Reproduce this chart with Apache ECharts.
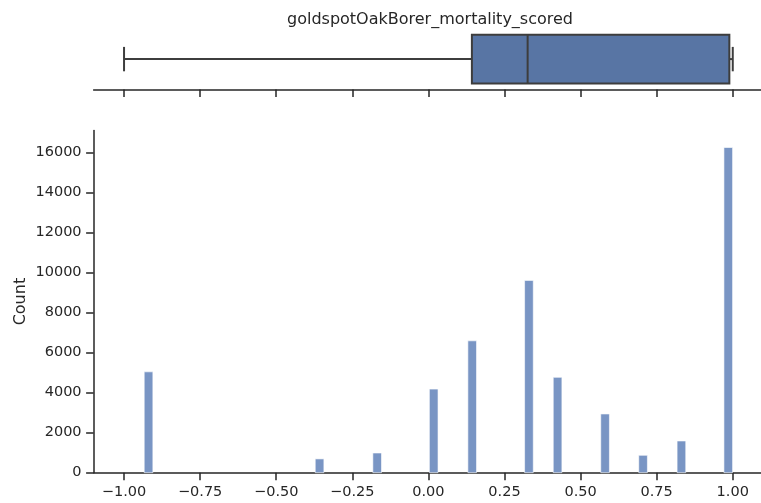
<!DOCTYPE html>
<html>
<head>
<meta charset="utf-8">
<script src="https://cdn.jsdelivr.net/npm/echarts@6/dist/echarts.min.js"></script>
<style>
  html, body { margin: 0; padding: 0; background: #ffffff; }
  #chart { width: 761px; height: 503px; }
</style>
</head>
<body>
<div id="chart"></div>
<script>
// ---- data ----
const titleText = 'goldspotOakBorer_mortality_scored';
const yAxisName = 'Count';
// box plot summary: [min, Q1, median, Q3, max]
const boxStats = [-1.0, 0.1429, 0.326, 0.9888, 1.0];
// histogram bins (centres) and counts
const binCenters = [-0.9195, -0.3576, -0.1683, 0.0174, 0.1439, 0.3303, 0.4244, 0.5805, 0.7053, 0.8313, 0.9852];
const binWidth = 0.0285;
const binCounts = [5040, 690, 985, 4180, 6590, 9610, 4765, 2935, 870, 1585, 16250];
// axis ticks
const xTicks = [-1.0, -0.75, -0.5, -0.25, 0.0, 0.25, 0.5, 0.75, 1.0];
const yTicks = [0, 2000, 4000, 6000, 8000, 10000, 12000, 14000, 16000];
const xRange = [-1.1, 1.1];
const yMax = 17100;

// ---- styles ----
const FONT = 'DejaVu Sans';
const INK = '#262626';
const BOX_FILL = '#5875a4';
const BOX_EDGE = '#3d3d3d';
const BAR_FILL = '#7995c4';

const fmtX = v => (v < 0 ? '\u2212' : '') + Math.abs(v).toFixed(2);
const fmtY = v => String(Math.round(v));

const histData = binCenters.map((c, i) => [c - binWidth / 2, c + binWidth / 2, binCounts[i]]);

const chart = echarts.init(document.getElementById('chart'), null, { renderer: 'canvas' });

const axisLineStyle = { show: true, onZero: false, lineStyle: { color: INK, width: 1.5 } };

chart.setOption({
  animation: false,
  backgroundColor: '#ffffff',
  title: {
    text: titleText,
    left: 425,
    top: 7,
    textAlign: 'center',
    textStyle: { fontFamily: FONT, fontSize: 16, fontWeight: 'normal', color: INK }
  },
  grid: [
    { left: 93.6, width: 669.6, top: 28.6, height: 61, outerBoundsMode: 'none', containLabel: false },
    { left: 93.6, width: 669.6, top: 130.5, height: 342.2, outerBoundsMode: 'none', containLabel: false }
  ],
  xAxis: [
    {
      gridIndex: 0, type: 'value', min: xRange[0], max: xRange[1],
      axisLine: axisLineStyle,
      axisTick: { show: true, inside: false, length: 7.5, customValues: xTicks, lineStyle: { color: INK, width: 1.5 } },
      axisLabel: { show: false },
      splitLine: { show: false }
    },
    {
      gridIndex: 1, type: 'value', min: xRange[0], max: xRange[1],
      axisLine: axisLineStyle,
      axisTick: { show: true, inside: false, length: 7.5, customValues: xTicks, lineStyle: { color: INK, width: 1.5 } },
      axisLabel: {
        show: true, customValues: xTicks, formatter: fmtX, margin: 12,
        fontFamily: FONT, fontSize: 14.5, color: INK
      },
      splitLine: { show: false }
    }
  ],
  yAxis: [
    {
      gridIndex: 0, type: 'category', data: ['v'], show: false
    },
    {
      gridIndex: 1, type: 'value', min: 0, max: yMax,
      name: yAxisName, nameLocation: 'middle', nameGap: 65, nameRotate: 90,
      nameMoveOverlap: false,
      nameTextStyle: { fontFamily: FONT, fontSize: 16, color: INK },
      axisLine: axisLineStyle,
      axisTick: { show: true, inside: false, length: 7.5, customValues: yTicks, lineStyle: { color: INK, width: 1.5 } },
      axisLabel: {
        show: true, customValues: yTicks, formatter: fmtY, margin: 12,
        fontFamily: FONT, fontSize: 14.5, color: INK
      },
      splitLine: { show: false }
    }
  ],
  series: [
    {
      type: 'custom',
      xAxisIndex: 0, yAxisIndex: 0,
      encode: { x: [0, 1, 2, 3, 4], y: 5 },
      data: [[...boxStats, 0]],
      renderItem: function (params, api) {
        const cat = api.value(5);
        const pMin = api.coord([api.value(0), cat]);
        const pQ1 = api.coord([api.value(1), cat]);
        const pMed = api.coord([api.value(2), cat]);
        const pQ3 = api.coord([api.value(3), cat]);
        const pMax = api.coord([api.value(4), cat]);
        const band = api.size([0, 1])[1];
        const h = band * 0.8;
        const cy = pMin[1];
        const lineSt = { stroke: BOX_EDGE, lineWidth: 2 };
        return {
          type: 'group',
          children: [
            { type: 'line', shape: { x1: pMin[0], y1: cy, x2: pQ1[0], y2: cy }, style: lineSt },
            { type: 'line', shape: { x1: pQ3[0], y1: cy, x2: pMax[0], y2: cy }, style: lineSt },
            { type: 'line', shape: { x1: pMin[0], y1: cy - h / 4, x2: pMin[0], y2: cy + h / 4 }, style: lineSt },
            { type: 'line', shape: { x1: pMax[0], y1: cy - h / 4, x2: pMax[0], y2: cy + h / 4 }, style: lineSt },
            { type: 'rect', shape: { x: pQ1[0], y: cy - h / 2, width: pQ3[0] - pQ1[0], height: h },
              style: { fill: BOX_FILL, stroke: BOX_EDGE, lineWidth: 2 } },
            { type: 'line', shape: { x1: pMed[0], y1: cy - h / 2, x2: pMed[0], y2: cy + h / 2 }, style: lineSt }
          ]
        };
      }
    },
    {
      type: 'custom',
      xAxisIndex: 1, yAxisIndex: 1,
      encode: { x: [0, 1], y: 2 },
      data: histData,
      renderItem: function (params, api) {
        const p0 = api.coord([api.value(0), 0]);
        const p1 = api.coord([api.value(1), api.value(2)]);
        return {
          type: 'rect',
          shape: { x: p0[0], y: p1[1], width: p1[0] - p0[0], height: p0[1] - p1[1] },
          style: { fill: BAR_FILL, stroke: '#ffffff', lineWidth: 0.6 }
        };
      }
    }
  ]
});
</script>
</body>
</html>
